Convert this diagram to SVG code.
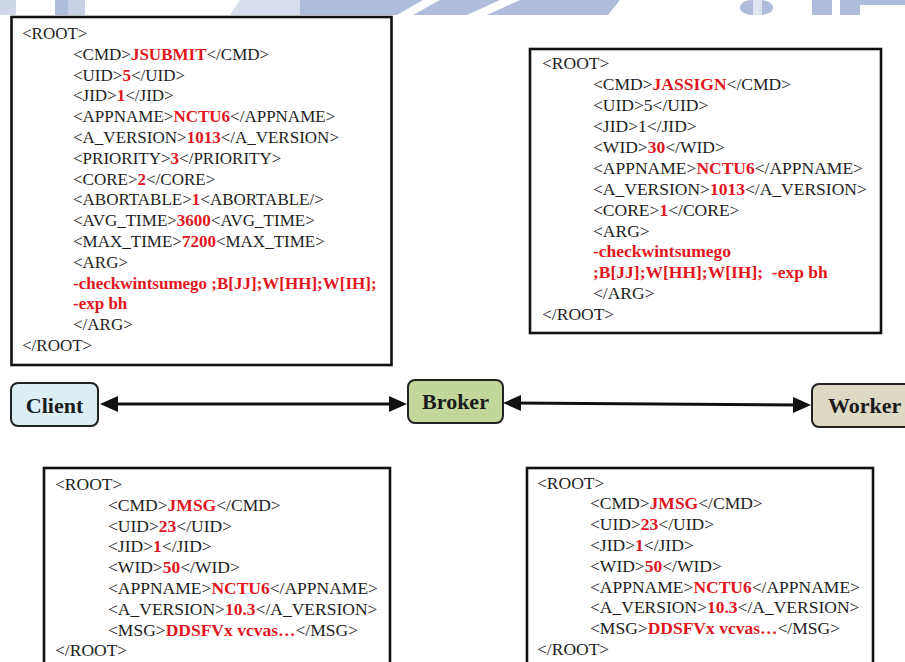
<svg xmlns="http://www.w3.org/2000/svg" width="905" height="662" viewBox="0 0 905 662">
<style>
.t{font-family:"Liberation Serif","Times New Roman",serif;font-size:17px;fill:#1e1e1e}
.t2{font-size:17.5px}
.r{fill:#e3161e;font-weight:bold}
.box{fill:#fff;stroke:#111;stroke-width:2.6}
.node{stroke:#222;stroke-width:2}
.nt{font-family:"Liberation Serif","Times New Roman",serif;font-size:22px;font-weight:bold;fill:#1a1a1a}
.wm{fill:#b0bcdb}
.conn{stroke:#111;stroke-width:3;fill:none;marker-start:url(#ah);marker-end:url(#ah)}
</style>
<defs>
<marker id="ah" viewBox="0 0 18 16" refX="8" refY="8" markerWidth="18" markerHeight="16" markerUnits="userSpaceOnUse" orient="auto-start-reverse">
<path d="M0,0 L18,8 L0,16 Z" fill="#111"/>
</marker>
</defs>
<rect width="905" height="662" fill="#fff"/>
<g id="watermark">
<rect x="0" y="0" width="16" height="15" class="wm" opacity="0.6"/>
<rect x="55" y="0" width="13" height="15" class="wm"/>
<rect x="68" y="0" width="17" height="15" class="wm" opacity="0.7"/>
<polygon points="230,15 240,0 300,0 300,15" class="wm" opacity="0.5"/>
<polygon points="300,0 423,0 397,15 300,15" class="wm"/>
<polygon points="440,0 500,0 467,15 413,15" class="wm"/>
<polygon points="520,0 620,0 608,15 487,15" class="wm"/>
<rect x="740" y="0" width="33" height="15" rx="12" class="wm"/>
<rect x="753" y="0" width="9" height="15" fill="#dfe4f1"/>
<rect x="812" y="0" width="20" height="15" class="wm"/>
<rect x="840" y="0" width="20" height="15" class="wm"/>
<rect x="860" y="0" width="45" height="5" class="wm"/>
</g>
<g id="msg-submit">
<rect x="11.5" y="17" width="380" height="348" class="box"/>
<text class="t" x="22" y="39">&lt;ROOT&gt;</text>
<text class="t" x="73" y="59.8">&lt;CMD&gt;<tspan class="r">JSUBMIT</tspan>&lt;/CMD&gt;</text>
<text class="t" x="73" y="80.6">&lt;UID&gt;<tspan class="r">5</tspan>&lt;/UID&gt;</text>
<text class="t" x="73" y="101.4">&lt;JID&gt;<tspan class="r">1</tspan>&lt;/JID&gt;</text>
<text class="t" x="73" y="122.2">&lt;APPNAME&gt;<tspan class="r">NCTU6</tspan>&lt;/APPNAME&gt;</text>
<text class="t" x="73" y="143">&lt;A_VERSION&gt;<tspan class="r">1013</tspan>&lt;/A_VERSION&gt;</text>
<text class="t" x="73" y="163.8">&lt;PRIORITY&gt;<tspan class="r">3</tspan>&lt;/PRIORITY&gt;</text>
<text class="t" x="73" y="184.6">&lt;CORE&gt;<tspan class="r">2</tspan>&lt;/CORE&gt;</text>
<text class="t" x="73" y="205.4">&lt;ABORTABLE&gt;<tspan class="r">1</tspan>&lt;ABORTABLE/&gt;</text>
<text class="t" x="73" y="226.2">&lt;AVG_TIME&gt;<tspan class="r">3600</tspan>&lt;AVG_TIME&gt;</text>
<text class="t" x="73" y="247">&lt;MAX_TIME&gt;<tspan class="r">7200</tspan>&lt;MAX_TIME&gt;</text>
<text class="t" x="73" y="267.8">&lt;ARG&gt;</text>
<text class="t" x="73" y="288.6"><tspan class="r">-checkwintsumego ;B[JJ];W[HH];W[IH];</tspan></text>
<text class="t" x="73" y="309.4"><tspan class="r">-exp bh</tspan></text>
<text class="t" x="73" y="330.2">&lt;/ARG&gt;</text>
<text class="t" x="22" y="351">&lt;/ROOT&gt;</text>
</g>
<g id="msg-assign">
<rect x="530" y="49" width="351" height="284" class="box"/>
<text class="t t2" x="542" y="69.3">&lt;ROOT&gt;</text>
<text class="t t2" x="593" y="90.2">&lt;CMD&gt;<tspan class="r">JASSIGN</tspan>&lt;/CMD&gt;</text>
<text class="t t2" x="593" y="111.1">&lt;UID&gt;5&lt;/UID&gt;</text>
<text class="t t2" x="593" y="132">&lt;JID&gt;1&lt;/JID&gt;</text>
<text class="t t2" x="593" y="152.9">&lt;WID&gt;<tspan class="r">30</tspan>&lt;/WID&gt;</text>
<text class="t t2" x="593" y="173.8">&lt;APPNAME&gt;<tspan class="r">NCTU6</tspan>&lt;/APPNAME&gt;</text>
<text class="t t2" x="593" y="194.7">&lt;A_VERSION&gt;<tspan class="r">1013</tspan>&lt;/A_VERSION&gt;</text>
<text class="t t2" x="593" y="215.6">&lt;CORE&gt;<tspan class="r">1</tspan>&lt;/CORE&gt;</text>
<text class="t t2" x="593" y="236.5">&lt;ARG&gt;</text>
<text class="t t2" x="593" y="257.4"><tspan class="r">-checkwintsumego</tspan></text>
<text class="t t2" x="593" y="278.3" xml:space="preserve"><tspan class="r">;B[JJ];W[HH];W[IH];  -exp bh</tspan></text>
<text class="t t2" x="593" y="299.2">&lt;/ARG&gt;</text>
<text class="t t2" x="542" y="320.1">&lt;/ROOT&gt;</text>
</g>
<g id="msg-client">
<rect x="44" y="468" width="346" height="220" class="box"/>
<text class="t t2" x="55" y="490">&lt;ROOT&gt;</text>
<text class="t t2" x="108" y="510.8">&lt;CMD&gt;<tspan class="r">JMSG</tspan>&lt;/CMD&gt;</text>
<text class="t t2" x="108" y="531.6">&lt;UID&gt;<tspan class="r">23</tspan>&lt;/UID&gt;</text>
<text class="t t2" x="108" y="552.4">&lt;JID&gt;<tspan class="r">1</tspan>&lt;/JID&gt;</text>
<text class="t t2" x="108" y="573.2">&lt;WID&gt;<tspan class="r">50</tspan>&lt;/WID&gt;</text>
<text class="t t2" x="108" y="594">&lt;APPNAME&gt;<tspan class="r">NCTU6</tspan>&lt;/APPNAME&gt;</text>
<text class="t t2" x="108" y="614.8">&lt;A_VERSION&gt;<tspan class="r">10.3</tspan>&lt;/A_VERSION&gt;</text>
<text class="t t2" x="108" y="635.6">&lt;MSG&gt;<tspan class="r">DDSFVx vcvas…</tspan>&lt;/MSG&gt;</text>
<text class="t t2" x="55" y="656.4">&lt;/ROOT&gt;</text>
</g>
<g id="msg-worker">
<rect x="527" y="468" width="346" height="220" class="box"/>
<text class="t t2" x="537" y="488.5">&lt;ROOT&gt;</text>
<text class="t t2" x="590" y="509.3">&lt;CMD&gt;<tspan class="r">JMSG</tspan>&lt;/CMD&gt;</text>
<text class="t t2" x="590" y="530.1">&lt;UID&gt;<tspan class="r">23</tspan>&lt;/UID&gt;</text>
<text class="t t2" x="590" y="550.9">&lt;JID&gt;<tspan class="r">1</tspan>&lt;/JID&gt;</text>
<text class="t t2" x="590" y="571.7">&lt;WID&gt;<tspan class="r">50</tspan>&lt;/WID&gt;</text>
<text class="t t2" x="590" y="592.5">&lt;APPNAME&gt;<tspan class="r">NCTU6</tspan>&lt;/APPNAME&gt;</text>
<text class="t t2" x="590" y="613.3">&lt;A_VERSION&gt;<tspan class="r">10.3</tspan>&lt;/A_VERSION&gt;</text>
<text class="t t2" x="590" y="634.1">&lt;MSG&gt;<tspan class="r">DDSFVx vcvas…</tspan>&lt;/MSG&gt;</text>
<text class="t t2" x="537" y="654.9">&lt;/ROOT&gt;</text>
</g>
<g id="connectors">
<line x1="110" y1="404" x2="397" y2="404" class="conn"/>
<line x1="513" y1="403" x2="801" y2="405" class="conn"/>
</g>
<g id="client">
<rect x="11" y="383" width="87" height="43" rx="7" fill="#daeef3" class="node"/>
<text class="nt" x="54.5" y="413" text-anchor="middle">Client</text>
</g>
<g id="broker">
<rect x="408" y="380" width="95" height="43" rx="7" fill="#c3d69b" class="node"/>
<text class="nt" x="455.5" y="409" text-anchor="middle">Broker</text>
</g>
<g id="worker">
<rect x="812" y="384" width="105" height="43" rx="7" fill="#ddd9c3" class="node"/>
<text class="nt" x="828" y="413">Worker</text>
</g>
</svg>
